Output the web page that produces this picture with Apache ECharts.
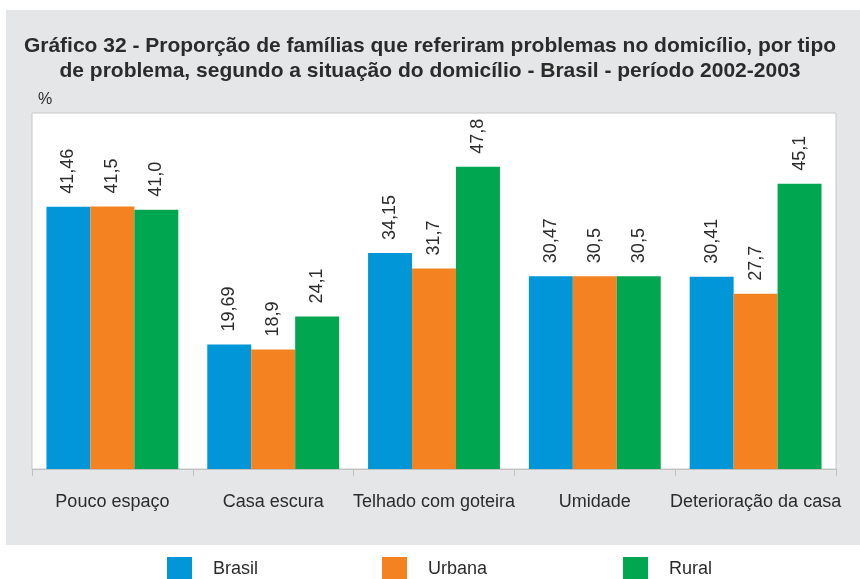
<!DOCTYPE html>
<html>
<head>
<meta charset="utf-8">
<script src="https://cdn.jsdelivr.net/npm/echarts@6/dist/echarts.min.js"></script>
<style>
    html, body { margin: 0; padding: 0; background: #fff; }
    #chart { width: 860px; height: 579px; }
</style>
</head>
<body>
<div id="chart"></div>
<script>
    var categories = ['Pouco espaço', 'Casa escura', 'Telhado com goteira', 'Umidade', 'Deterioração da casa'];
    var brasil = [41.46, 19.69, 34.15, 30.47, 30.41];
    var urbana = [41.5, 18.9, 31.7, 30.5, 27.7];
    var rural = [41.0, 24.1, 47.8, 30.5, 45.1];

    var colors = {
        brasil: '#0096d8',
        urbana: '#f58220',
        rural: '#00a650'
    };
    var textColor = '#2b2b2b';
    var font = '"Liberation Sans", Arial, sans-serif';

    // rotated value label, comma decimal
    var makeLabel = function (digits) {
        return {
            show: true,
            position: 'top',
            rotate: 90,
            align: 'left',
            verticalAlign: 'middle',
            distance: 13,
            fontSize: 18,
            fontFamily: font,
            color: textColor,
            formatter: function (p) {
                return p.value.toFixed(digits).replace('.', ',');
            }
        };
    };

    var makeSeries = function (name, data, color, digits) {
        return {
            name: name,
            type: 'bar',
            data: data,
            barGap: '0%',
            barCategoryGap: '18%',
            itemStyle: { color: color },
            label: makeLabel(digits),
            emphasis: { disabled: true }
        };
    };

    var makeLegend = function (name, left) {
        return {
            data: [name],
            left: left,
            top: 557,
            padding: 0,
            itemWidth: 25,
            itemHeight: 25,
            icon: 'rect',
            itemGap: 0,
            selectedMode: false,
            textStyle: {
                fontSize: 18,
                fontFamily: font,
                color: textColor,
                padding: [0, 0, 0, 16]
            }
        };
    };

    var chart = echarts.init(document.getElementById('chart'), null, { renderer: 'canvas' });
    chart.setOption({
        animation: false,
        backgroundColor: '#ffffff',
        graphic: [{
            type: 'rect',
            z: -10,
            shape: { x: 6, y: 10, width: 854, height: 535 },
            style: { fill: '#e5e6e8' }
        }, {
            type: 'text',
            left: 'center',
            top: 34,
            style: {
                text: 'Gráfico 32 - Proporção de famílias que referiram problemas no domicílio, por tipo\nde problema, segundo a situação do domicílio - Brasil - período 2002-2003',
                font: 'bold 21px ' + font,
                fill: textColor,
                textAlign: 'center',
                lineHeight: 25
            }
        }, {
            type: 'text',
            left: 38,
            top: 92,
            style: {
                text: '%',
                font: '16px ' + font,
                fill: textColor
            }
        }],
        grid: {
            left: 32,
            right: 24,
            top: 113,
            bottom: 110,
            show: true,
            backgroundColor: '#ffffff',
            borderColor: '#c8c8c8',
            borderWidth: 1
        },
        legend: [
            makeLegend('Brasil', 167),
            makeLegend('Urbana', 382),
            makeLegend('Rural', 623)
        ],
        xAxis: {
            type: 'category',
            data: categories,
            axisLine: { lineStyle: { color: '#c0c0c0', width: 1 } },
            axisTick: { show: true, length: 7, lineStyle: { color: '#c0c0c0' } },
            axisLabel: {
                fontSize: 18,
                fontFamily: font,
                color: textColor,
                margin: 24,
                interval: 0
            }
        },
        yAxis: {
            type: 'value',
            min: 0,
            max: 56.3,
            show: false,
            splitLine: { show: false }
        },
        series: [
            makeSeries('Brasil', brasil, colors.brasil, 2),
            makeSeries('Urbana', urbana, colors.urbana, 1),
            makeSeries('Rural', rural, colors.rural, 1)
        ]
    });
</script>
</body>
</html>
